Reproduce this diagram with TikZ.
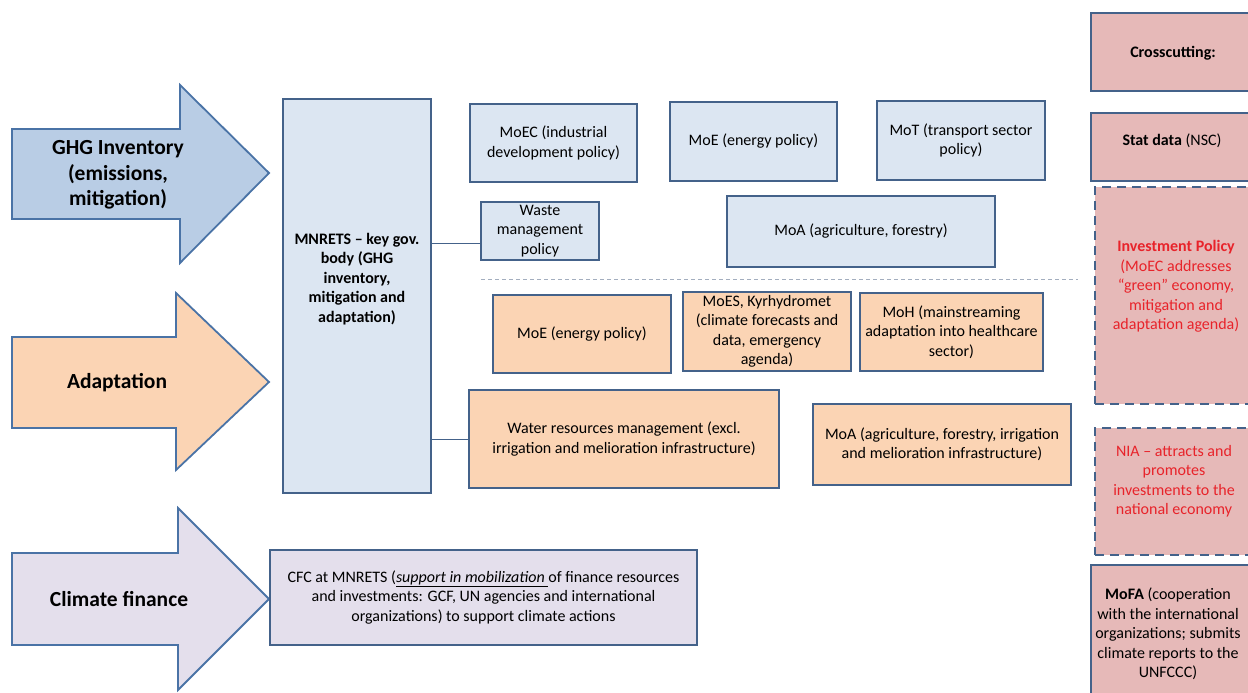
\documentclass[tikz,border=0pt]{standalone}
\usepackage{fontspec}
\setmainfont{Carlito}
\definecolor{bluefill}{HTML}{DCE6F2}
\definecolor{boxborder}{HTML}{44628A}
\definecolor{ghgfill}{HTML}{B9CDE5}
\definecolor{arrowborder}{HTML}{4A73A6}
\definecolor{orangefill}{HTML}{FBD4B4}
\definecolor{lavfill}{HTML}{E4DFEC}
\definecolor{pinkfill}{HTML}{E6B9B8}
\definecolor{redtext}{HTML}{E8232A}
\definecolor{sepline}{HTML}{A3AEBF}
\begin{document}
\begin{tikzpicture}[x=1pt,y=-1pt,
  basebox/.style={draw=boxborder, line width=1.8pt, inner sep=1pt, align=center,
    font=\fontsize{16}{19.5}\selectfont},
  bluebox/.style={basebox, fill=bluefill},
  orangebox/.style={basebox, fill=orangefill},
  lavbox/.style={basebox, fill=lavfill},
  pinkbox/.style={basebox, fill=pinkfill},
  dashbox/.style={pinkbox, dash pattern=on 9pt off 6pt},
  bigarrow/.style={draw=arrowborder, line width=1.8pt, line join=miter},
  arrowtext/.style={font=\fontsize{21.5}{25.5}\selectfont\bfseries, align=center},
  plain/.style={align=center, font=\fontsize{16}{19.5}\selectfont},
  link/.style={draw=boxborder, line width=0.8pt}
]
\useasboundingbox (0,0) rectangle (1248,693);
\clip (0,0) rectangle (1248,693);

% big arrows
\draw[bigarrow, fill=ghgfill] (12,129) -- (180,129) -- (180,85) -- (269,173) -- (180,263) -- (180,219) -- (12,219) -- cycle;
\node[arrowtext] (ghg) at (118,175) {GHG Inventory\\(emissions,\\mitigation)};

\draw[bigarrow, fill=orangefill] (12,337) -- (176,337) -- (176,293) -- (269,382) -- (176,470) -- (176,428) -- (12,428) -- cycle;
\node[arrowtext] (adapt) at (117,383) {Adaptation};

\draw[bigarrow, fill=lavfill] (12,553) -- (178,553) -- (178,508) -- (269,599) -- (178,690) -- (178,645) -- (12,645) -- cycle;
\node[arrowtext] (finance) at (119,599) {Climate finance};

% MNRETS
\node[bluebox, minimum width=148pt, minimum height=394pt] (mnrets) at (357,296) {};
\node[plain, font=\fontsize{16}{19.5}\selectfont\bfseries] (mnretstext) at (357,279) {MNRETS -- key gov.\\body (GHG\\inventory,\\mitigation and\\adaptation)};

% mitigation row
\node[bluebox, minimum width=167pt, minimum height=78pt] (moec) at (553.5,143) {MoEC (industrial\\development policy)};
\node[bluebox, minimum width=167pt, minimum height=79pt] (moe1) at (753.5,141.5) {MoE (energy policy)};
\node[bluebox, minimum width=168pt, minimum height=79pt] (mot) at (961,140.5) {MoT (transport sector\\policy)};
\node[bluebox, minimum width=118pt, minimum height=58pt] (waste) at (540,231) {Waste\\management\\policy};
\node[bluebox, minimum width=268pt, minimum height=71pt] (moa1) at (861,231.5) {MoA (agriculture, forestry)};

% separator
\coordinate (sepL) at (481,279);
\coordinate (sepR) at (1078,279);
\draw[sepline, line width=1pt, dash pattern=on 4pt off 3pt] (sepL) -- (sepR);

% adaptation row
\node[orangebox, minimum width=178pt, minimum height=78pt] (moe2) at (582,334) {MoE (energy policy)};
\node[orangebox, minimum width=168pt, minimum height=79pt] (moes) at (767,331.5) {MoES, Kyrhydromet\\(climate forecasts and\\data, emergency\\agenda)};
\node[orangebox, minimum width=183pt, minimum height=78pt] (moh) at (951.5,332) {MoH (mainstreaming\\adaptation into healthcare\\sector)};
\node[orangebox, minimum width=310pt, minimum height=98pt] (water) at (624,439) {Water resources management (excl.\\irrigation and melioration infrastructure)};
\node[orangebox, minimum width=258pt, minimum height=81pt] (moa2) at (942,444.5) {MoA (agriculture, forestry, irrigation\\and melioration infrastructure)};

% finance
\node[lavbox, minimum width=427pt, minimum height=95pt] (cfc) at (483.5,597.5) {CFC at MNRETS (\underline{\textit{support in mobilization }}of finance resources\\and investments: GCF, UN agencies and international\\organizations) to support climate actions};

% connectors
\draw[link] (mnrets.east |- 0,243) -- (waste.west |- 0,243);
\draw[link] (mnrets.east |- 0,439) -- (water.west |- 0,439);

% right column
\node[pinkbox, minimum width=166pt, minimum height=78pt] (cross) at (1174,52) {};
\node[plain, font=\fontsize{16}{19.5}\selectfont\bfseries] (crosstext) at (1173,53) {Crosscutting:};
\node[pinkbox, minimum width=166pt, minimum height=68pt] (stat) at (1174,147) {};
\node[plain] (stattext) at (1172,141) {\textbf{Stat data} (NSC)};
\node[dashbox, minimum width=162pt, minimum height=217pt] (invest) at (1176,295.5) {};
\node[plain, text=redtext] (investtext) at (1176,286.5) {\textbf{Investment Policy}\\(MoEC addresses\\“green” economy,\\mitigation and\\adaptation agenda)};
\node[dashbox, minimum width=162pt, minimum height=127pt] (nia) at (1176,491.5) {};
\node[plain, text=redtext] (niatext) at (1174,481) {NIA -- attracts and\\promotes\\investments to the\\national economy};
\node[pinkbox, minimum width=166pt, minimum height=140pt] (mofa) at (1174,635) {};
\node[plain] (mofatext) at (1168,634) {\textbf{MoFA} (cooperation\\with the international\\organizations; submits\\climate reports to the\\UNFCCC)};
\end{tikzpicture}
\end{document}
